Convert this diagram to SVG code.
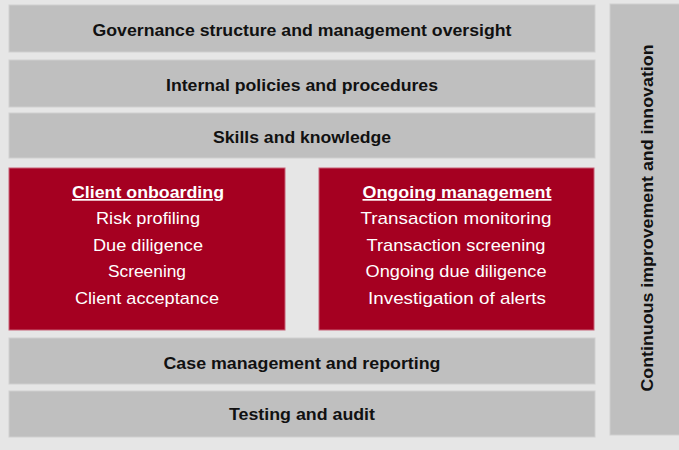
<svg xmlns="http://www.w3.org/2000/svg" width="679" height="450" viewBox="0 0 679 450">
<style>
.bar{fill:#bfbfbf;stroke:#cfcfcf;stroke-width:1}
.red{fill:#a50021;stroke:#c76077;stroke-width:1}
.t{font-family:"Liberation Sans",Arial,sans-serif;font-size:17px;font-weight:bold;fill:#111;text-anchor:middle}
.w{font-family:"Liberation Sans",Arial,sans-serif;font-size:17px;fill:#fff;text-anchor:middle}
.h{font-weight:bold;text-decoration:underline}
</style>
<rect width="679" height="450" fill="#e6e6e6"/>
<g id="governance"><rect class="bar" x="9" y="5" width="586" height="47"/><text class="t" x="302" y="36" textLength="419" lengthAdjust="spacingAndGlyphs">Governance structure and management oversight</text></g>
<g id="policies"><rect class="bar" x="9" y="60" width="586" height="47"/><text class="t" x="302" y="91" textLength="272" lengthAdjust="spacingAndGlyphs">Internal policies and procedures</text></g>
<g id="skills"><rect class="bar" x="9" y="113" width="586" height="45"/><text class="t" x="302" y="143" textLength="178" lengthAdjust="spacingAndGlyphs">Skills and knowledge</text></g>
<g id="onboarding"><rect class="red" x="9" y="168" width="276" height="162"/>
<text class="w h" x="148" y="198" textLength="152" lengthAdjust="spacingAndGlyphs">Client onboarding</text>
<text class="w" x="148" y="224" textLength="104" lengthAdjust="spacingAndGlyphs">Risk profiling</text>
<text class="w" x="148" y="251" textLength="110" lengthAdjust="spacingAndGlyphs">Due diligence</text>
<text class="w" x="147" y="277" textLength="78" lengthAdjust="spacingAndGlyphs">Screening</text>
<text class="w" x="147" y="304" textLength="144" lengthAdjust="spacingAndGlyphs">Client acceptance</text></g>
<g id="ongoing"><rect class="red" x="319" y="168" width="275" height="162"/>
<text class="w h" x="457" y="198" textLength="189" lengthAdjust="spacingAndGlyphs">Ongoing management</text>
<text class="w" x="456" y="224" textLength="191" lengthAdjust="spacingAndGlyphs">Transaction monitoring</text>
<text class="w" x="456" y="251" textLength="179" lengthAdjust="spacingAndGlyphs">Transaction screening</text>
<text class="w" x="456" y="277" textLength="181" lengthAdjust="spacingAndGlyphs">Ongoing due diligence</text>
<text class="w" x="457" y="304" textLength="178" lengthAdjust="spacingAndGlyphs">Investigation of alerts</text></g>
<g id="case"><rect class="bar" x="9" y="338" width="586" height="46"/><text class="t" x="302" y="369" textLength="277" lengthAdjust="spacingAndGlyphs">Case management and reporting</text></g>
<g id="testing"><rect class="bar" x="9" y="391" width="586" height="46"/><text class="t" x="302" y="420" textLength="146" lengthAdjust="spacingAndGlyphs">Testing and audit</text></g>
<g id="continuous"><rect class="bar" x="610" y="4" width="70" height="431"/><text class="t" transform="translate(653,218) rotate(-90)" x="0" y="0" textLength="347" lengthAdjust="spacingAndGlyphs">Continuous improvement and innovation</text></g>
<g id="connectors"/>
</svg>
